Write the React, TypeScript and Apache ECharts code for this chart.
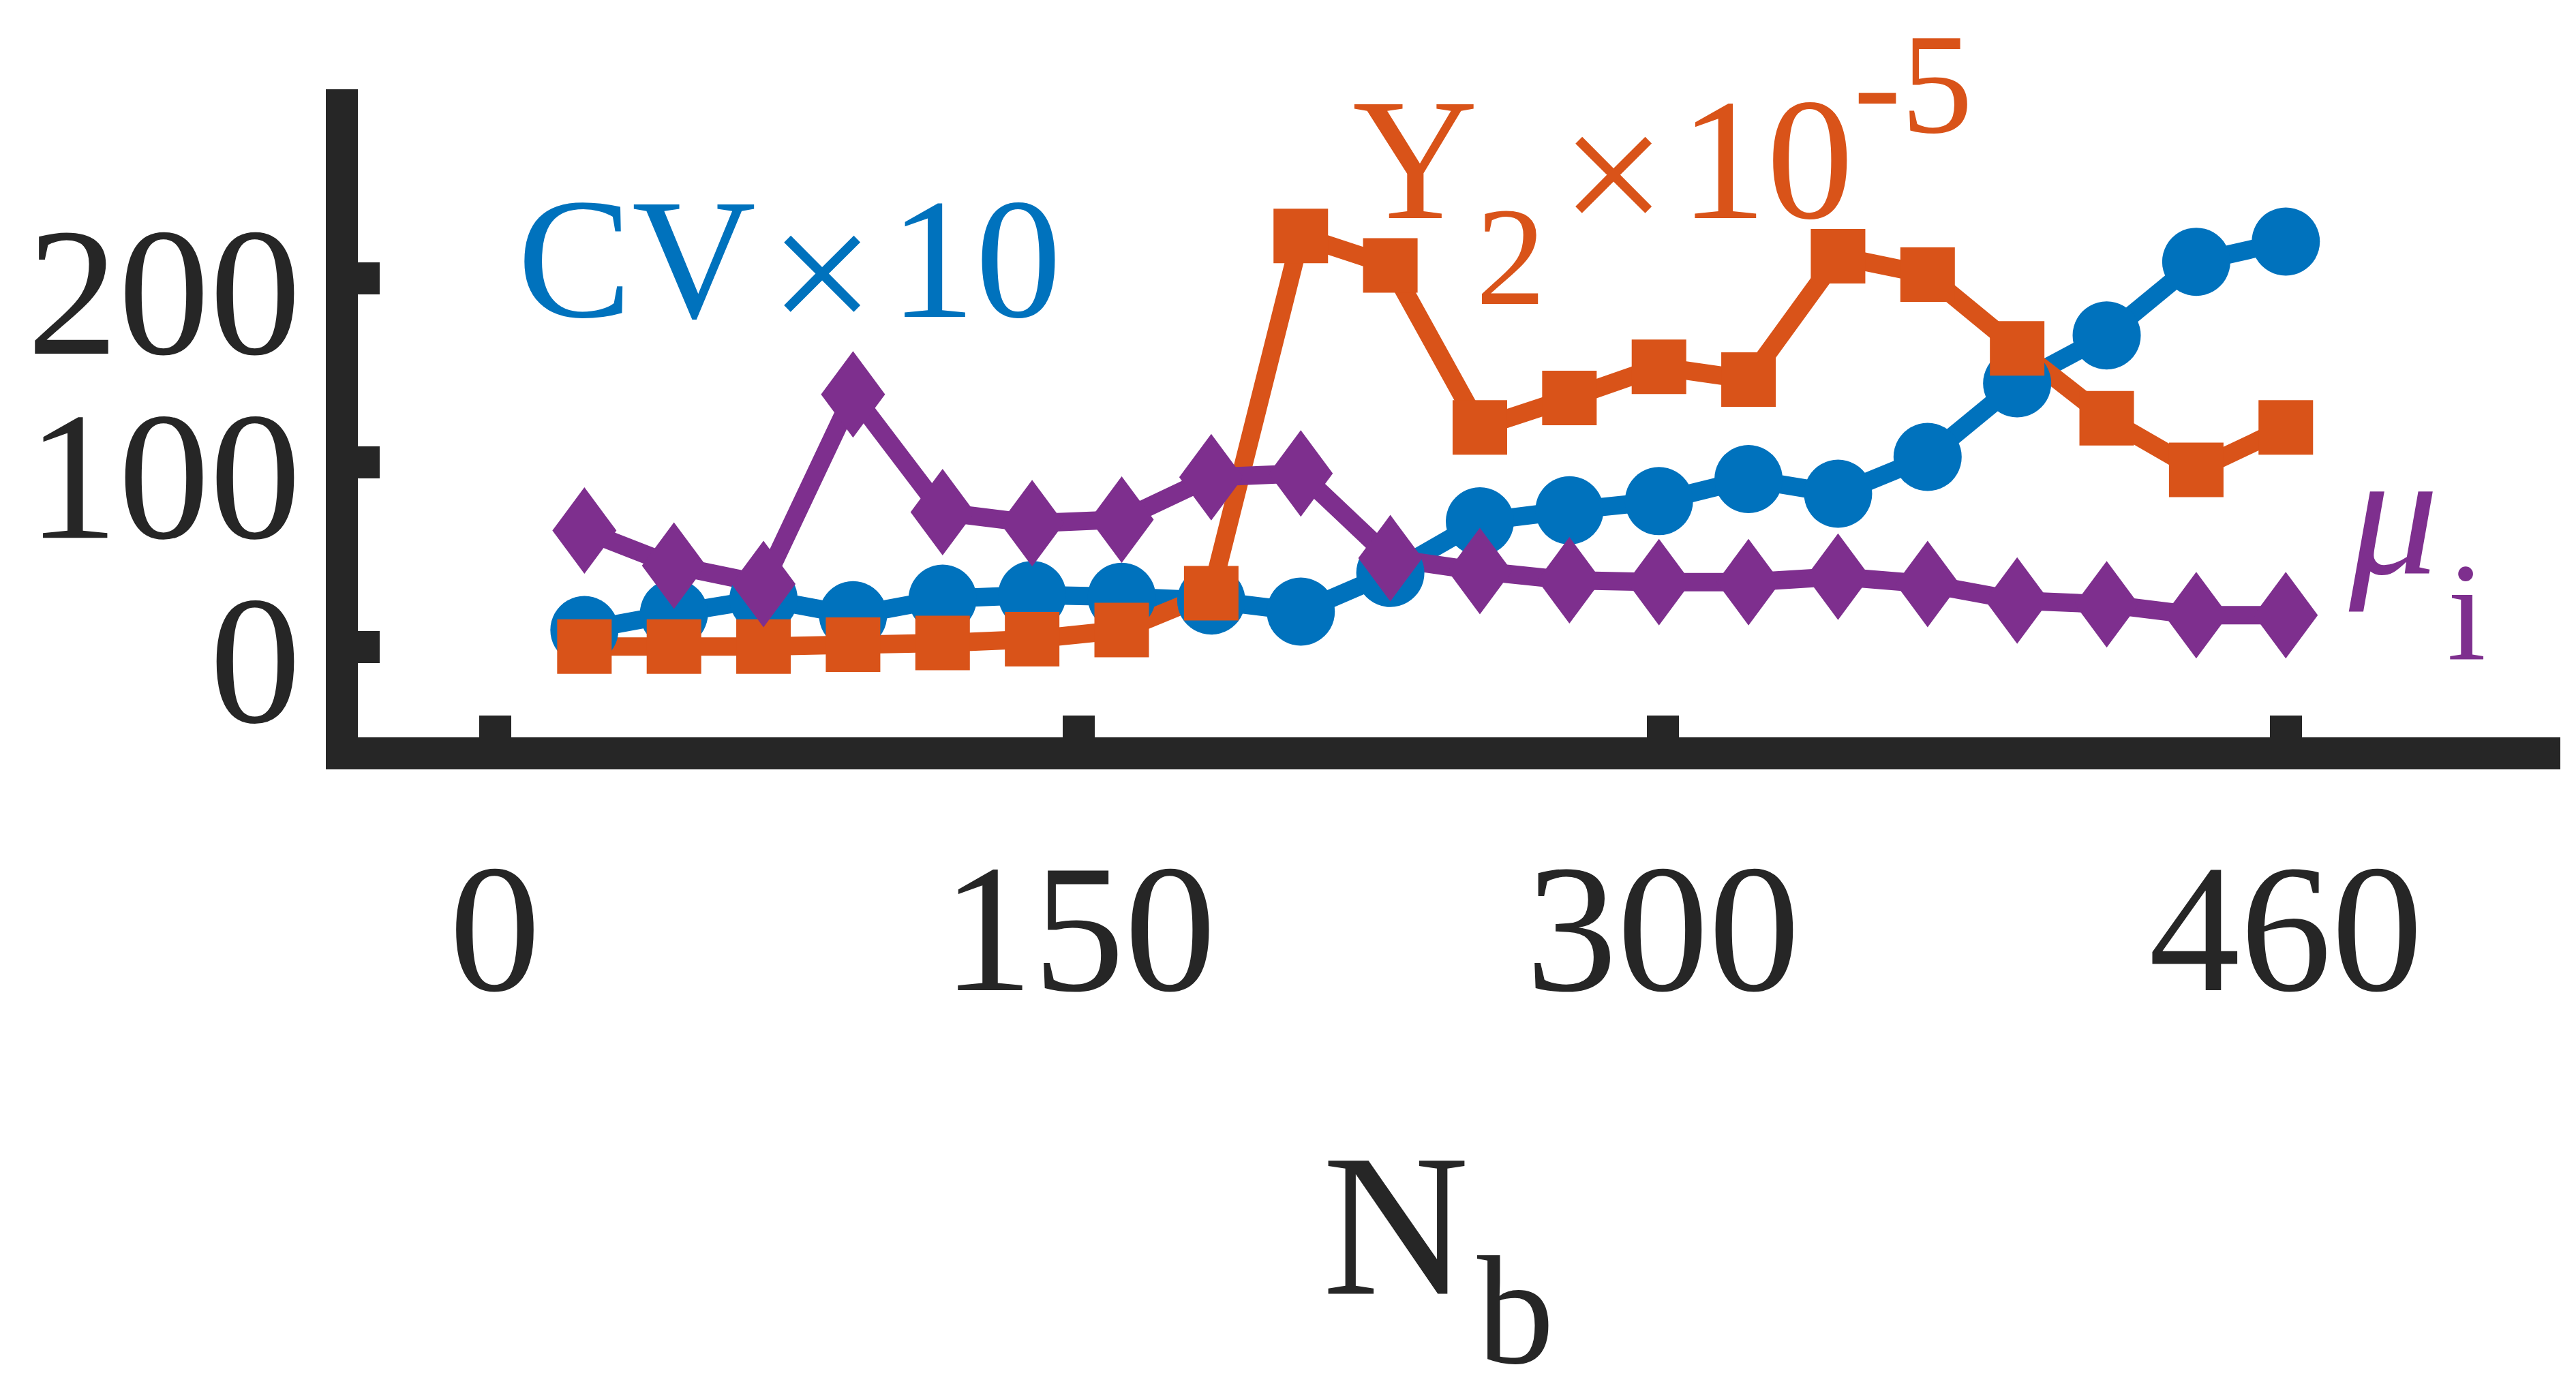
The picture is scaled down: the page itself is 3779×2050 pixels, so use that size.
import React, { useEffect, useRef } from "react";
import * as echarts from "echarts";

// ---- data ----
const nbValues = [23, 46, 69, 92, 115, 138, 161, 184, 207, 230, 253, 276, 299, 322, 345, 368, 391, 414, 437, 460];
const cvTimes10 = [9, 18, 26, 17, 26, 28, 27, 25, 19, 40, 68, 74, 79, 91, 83, 103, 143, 169, 209, 220];
const y2Scaled = [0, 0, 0, 1, 2, 4, 9, 29, 223, 207, 119, 135, 152, 145, 212, 202, 162, 124, 96, 119];
const muI = [63, 44, 34, 137, 73, 67, 69, 92, 94, 48, 41, 36, 35, 35, 38, 34, 25, 23, 17, 17];
const xTickValues = [0, 150, 300, 460];
const yTickValues = [0, 100, 200];

const BLUE = "#0072BD";
const ORANGE = "#D95319";
const PURPLE = "#7E2F8E";
const AXIS = "#262626";
const FONT = "'Liberation Serif', 'Times New Roman', serif";
const TICK_FONT = 268;

const pairs = (ys: number[]) => nbValues.map((x, i) => [x, ys[i]]);

// text placed by its baseline (svg renderer uses a central baseline)
function txt(text: string, x: number, baseline: number, size: number, color: string, extra: any = {}) {
  return {
    type: "text",
    x,
    y: baseline - 0.3375 * size,
    silent: true,
    style: {
      text,
      fill: color,
      fontSize: size,
      fontFamily: FONT,
      align: extra.align || "left",
      verticalAlign: "middle",
      fontStyle: extra.fontStyle || "normal",
      lineHeight: extra.lineHeight || size,
    },
  };
}

export default function App() {
  const ref = useRef<HTMLDivElement>(null);
  useEffect(() => {
    if (!ref.current) return;
    const chart = echarts.init(ref.current, null, { renderer: "svg" });
    const option: any = {
      animation: false,
      backgroundColor: "#ffffff",
      grid: { left: 501.5, right: 46.5, top: 154.5, bottom: 944.5, containLabel: false },
      xAxis: {
        type: "value",
        min: -39.3,
        max: 526.4,
        splitLine: { show: false },
        axisLine: { show: true, onZero: false, lineStyle: { color: AXIS, width: 47, cap: "square" } },
        axisTick: { show: true, inside: true, length: 55.5, customValues: xTickValues, lineStyle: { color: AXIS, width: 47 } },
        axisLabel: {
          show: true,
          customValues: xTickValues,
          margin: 123,
          color: AXIS,
          fontFamily: FONT,
          fontSize: TICK_FONT,
          lineHeight: TICK_FONT,
          verticalAlign: "top",
        },
      },
      yAxis: {
        type: "value",
        min: -58,
        max: 294,
        splitLine: { show: false },
        axisLine: { show: true, onZero: false, lineStyle: { color: AXIS, width: 47, cap: "square" } },
        axisTick: { show: true, inside: true, length: 55.5, customValues: yTickValues, lineStyle: { color: AXIS, width: 47 } },
        axisLabel: {
          show: true,
          customValues: yTickValues,
          margin: 60,
          color: AXIS,
          fontFamily: FONT,
          fontSize: TICK_FONT,
          lineHeight: 40,
          verticalAlign: "top",
          hideOverlap: false,
        },
      },
      series: [
        {
          name: "CV x 10",
          type: "line",
          data: pairs(cvTimes10),
          symbol: "circle",
          symbolSize: 100,
          itemStyle: { color: BLUE },
          lineStyle: { color: BLUE, width: 27 },
          emphasis: { disabled: true },
        },
        {
          name: "Y2 x 1e-5",
          type: "line",
          data: pairs(y2Scaled),
          symbol: "rect",
          symbolSize: 80,
          itemStyle: { color: ORANGE },
          lineStyle: { color: ORANGE, width: 27 },
          emphasis: { disabled: true },
        },
        {
          name: "mu_i",
          type: "line",
          data: pairs(muI),
          symbol: "diamond",
          symbolSize: [94, 127],
          itemStyle: { color: PURPLE },
          lineStyle: { color: PURPLE, width: 27 },
          emphasis: { disabled: true },
        },
      ],
      graphic: [
        // CV x 10
        txt("CV", 759, 465, 252, BLUE),
        txt("\u00d7", 1206, 493, 275, BLUE, { align: "center" }),
        txt("10", 1305, 465, 252, BLUE),
        // Y_2 x 10^-5
        txt("Y", 1984, 320, 255, ORANGE),
        txt("2", 2165, 446, 205, ORANGE),
        txt("\u00d7", 2367, 348, 275, ORANGE, { align: "center" }),
        txt("10", 2464, 320, 255, ORANGE),
        txt("-5", 2719, 194, 210, ORANGE),
        // mu_i
        txt("\u03bc", 3446, 842, 262, PURPLE, { fontStyle: "italic" }),
        txt("i", 3590, 967, 205, PURPLE),
        // x axis name N_b
        txt("N", 1940, 1898, 298, AXIS),
        txt("b", 2167, 2000, 226, AXIS),
      ],
    };
    chart.setOption(option);
    return () => chart.dispose();
  }, []);
  return <div ref={ref} style={{ position: "fixed", left: 0, top: 0, width: 3779, height: 2050 }} />;
}
